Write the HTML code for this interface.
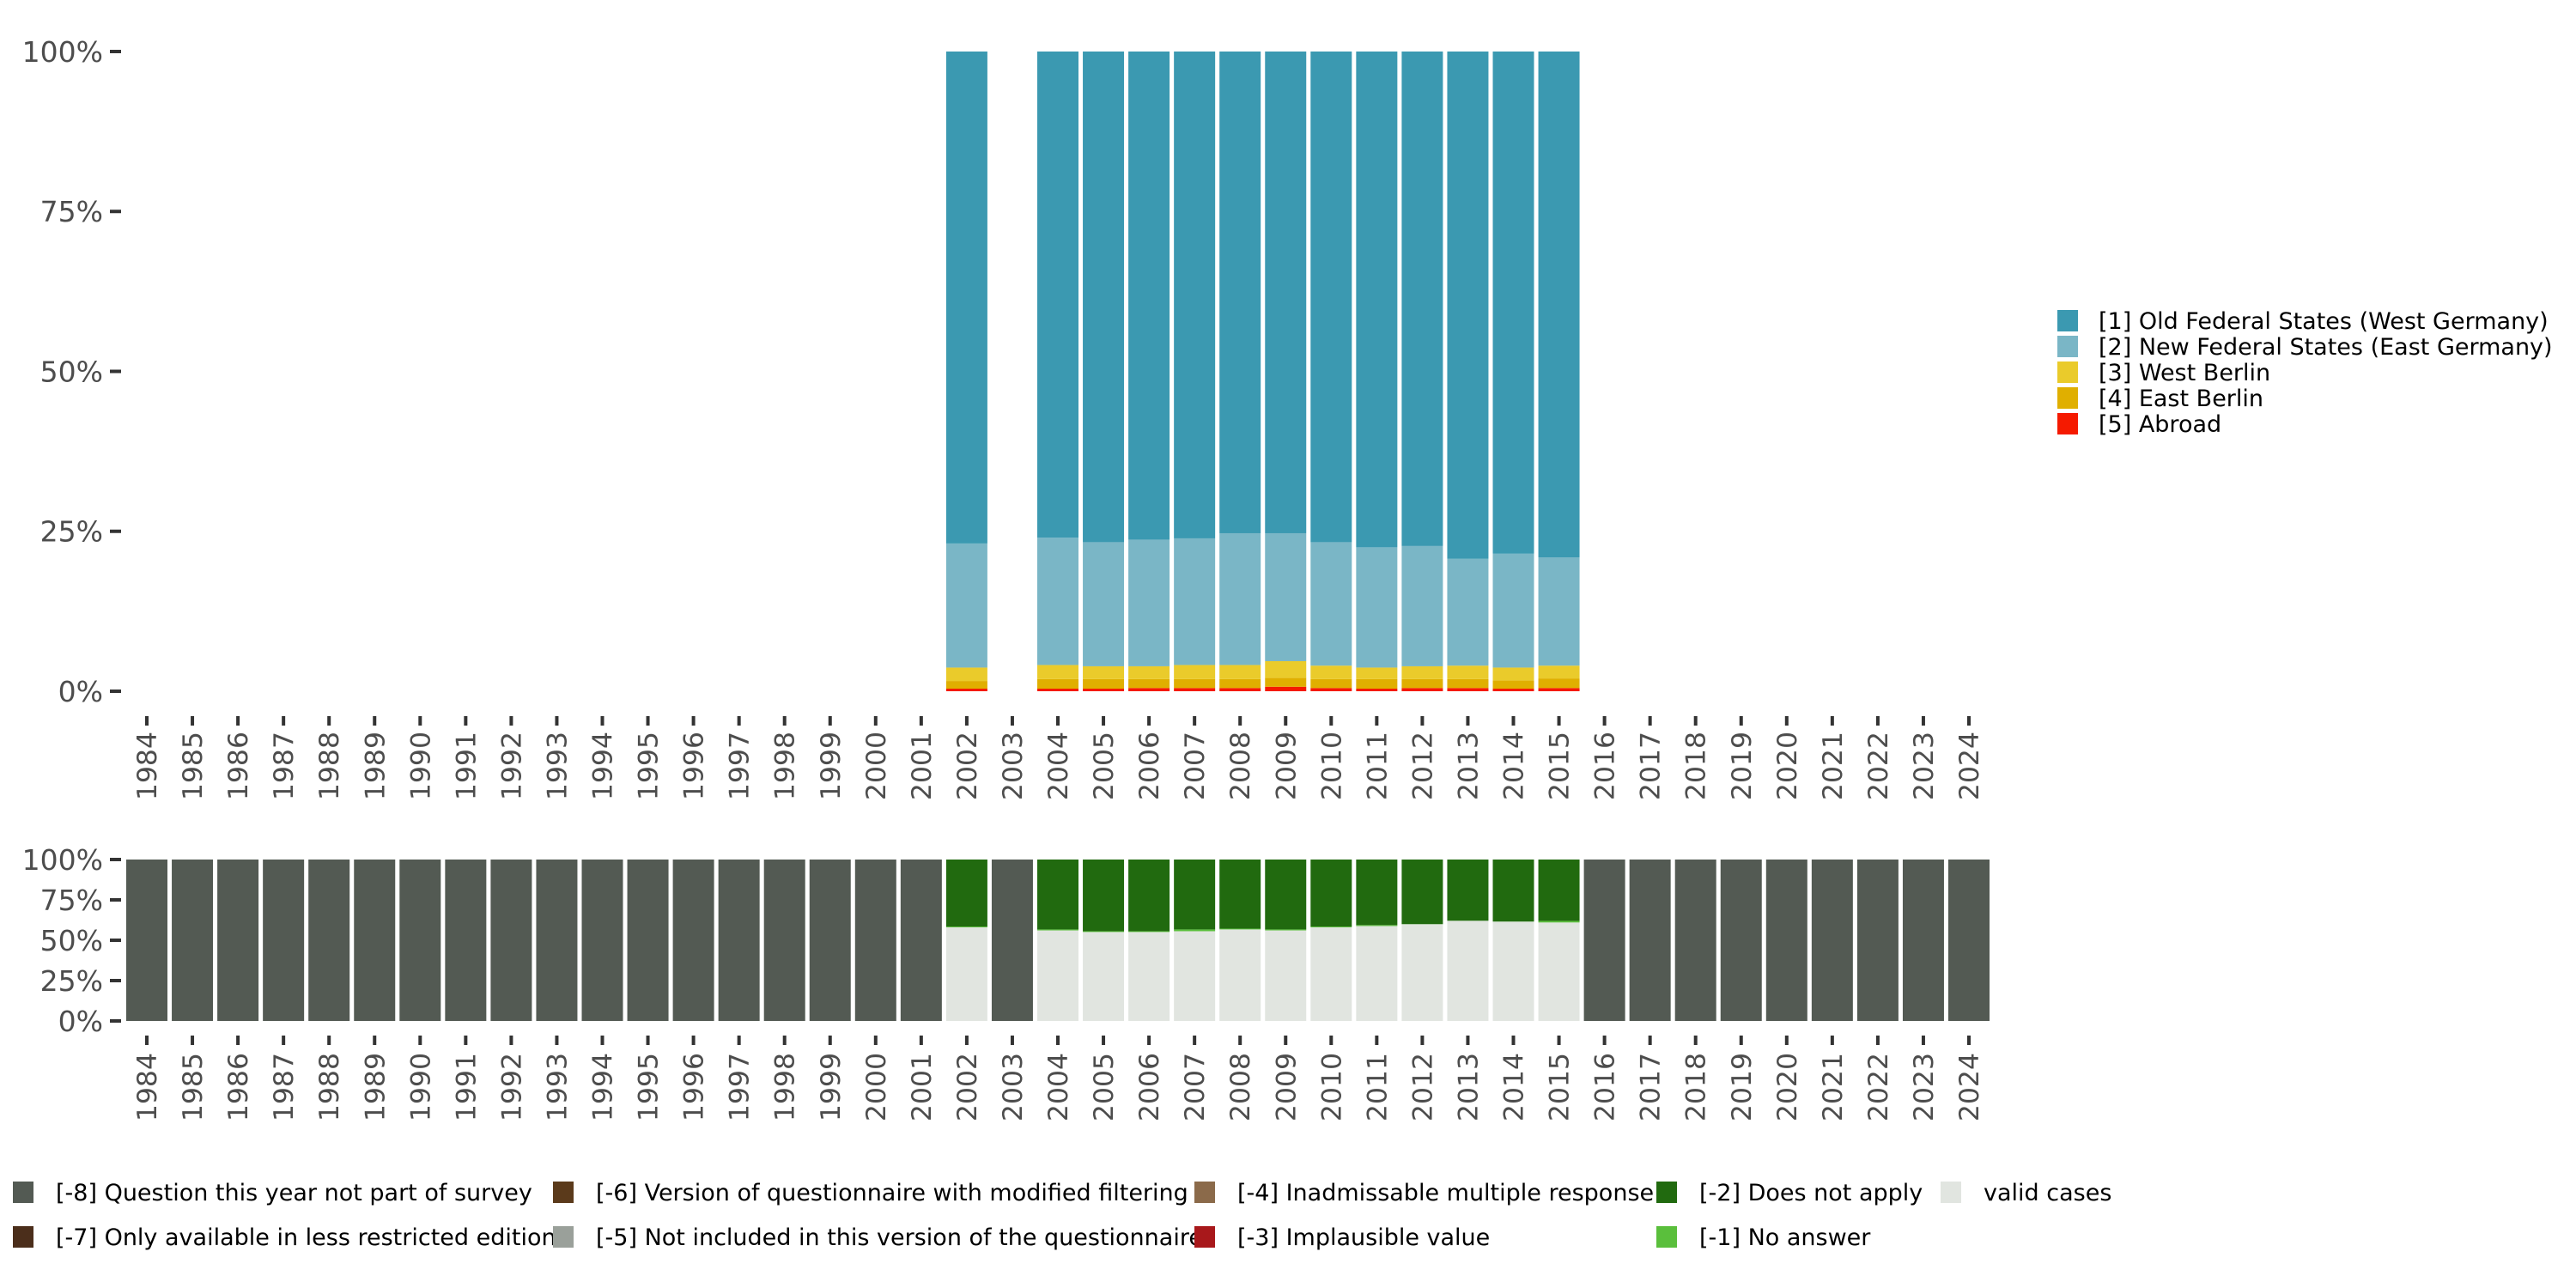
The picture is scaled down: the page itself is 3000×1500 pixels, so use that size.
<!DOCTYPE html>
<html><head><meta charset="utf-8">
<style>
html,body{margin:0;padding:0;background:#fff;}
svg{display:block;font-family:"DejaVu Sans","Liberation Sans",sans-serif;}
</style></head>
<body>
<svg id="chart" width="3000" height="1500" viewBox="0 0 3000 1500" xmlns="http://www.w3.org/2000/svg">
<g id="top"></g>
<g id="bottom"></g>
<g id="legend-right"></g>
<g id="legend-bottom"></g>
</svg>
<script>
const years = [];
for (let y = 1984; y <= 2024; y++) years.push(y);
const dataYears = [2002,2004,2005,2006,2007,2008,2009,2010,2011,2012,2013,2014,2015];
const abroad     = [0.4,0.4,0.4,0.5,0.5,0.5,0.7,0.5,0.4,0.5,0.5,0.4,0.5];
const eastBerlin = [1.2,1.5,1.5,1.4,1.4,1.4,1.4,1.4,1.5,1.4,1.4,1.3,1.5];
const westBerlin = [2.1,2.2,2.0,2.0,2.2,2.2,2.6,2.1,1.8,2.0,2.1,2.0,2.0];
const newStates  = [19.4,19.9,19.4,19.8,19.8,20.6,20.0,19.3,18.8,18.8,16.7,17.8,16.9];
const oldStates  = [76.9,76.0,76.7,76.3,76.1,75.3,75.3,76.7,77.5,77.3,79.3,78.5,79.1];
const validCases   = [58.0,56.1,55.1,55.1,55.6,56.7,56.1,58.0,58.8,59.9,62.0,61.5,61.0];
const noAnswer     = [0.5,0.6,0.5,0.5,1.1,0.5,0.6,0.5,0.6,0.1,0.1,0.1,1.0];
const doesNotApply = [41.5,43.3,44.4,44.4,43.3,42.8,43.3,41.5,40.6,40.0,37.9,38.4,38.0];
const yTicks = [0,25,50,75,100];
const yTickLabels = ["0%","25%","50%","75%","100%"];

const NS = "http://www.w3.org/2000/svg";
function mk(tag, attrs, parent){const e=document.createElementNS(NS,tag);for(const k in attrs)e.setAttribute(k,attrs[k]);parent.appendChild(e);return e;}
const x0 = 171, step = 53.05, bw = 48;
function xC(year){return x0 + (year-1984)*step;}
function yTop(v){return 805 - v/100*745;}
function yBot(v){return 1189 - v/100*188;}

const topG = document.getElementById('top');
const botG = document.getElementById('bottom');
const tickCol = "#333", labCol = "#4d4d4d";

function axes(g, yf, tickYTop, labelY, fs){
  yTicks.forEach((t,i)=>{
    const l = mk('line',{x1:128,x2:141,y1:yf(t),y2:yf(t),stroke:tickCol,'stroke-width':4},g);
    
    
    const tx = mk('text',{x:120,y:yf(t)+fs*0.36,'text-anchor':'end','font-size':fs,fill:labCol},g);
    tx.textContent = yTickLabels[i];
    
    
  });
  years.forEach(yr=>{
    const x = xC(yr);
    const l = mk('line',{x1:x,x2:x,y1:tickYTop,y2:tickYTop+11,stroke:tickCol,'stroke-width':4},g);
    
    
    const tx = mk('text',{x:0,y:0,'text-anchor':'end','font-size':31.5,fill:labCol,transform:`translate(${x+11},${labelY}) rotate(-90)`},g);
    tx.textContent = yr;
    
    
  });
}
axes(topG, yTop, 834, 852, 33);
axes(botG, yBot, 1206, 1226, 33);

const topSeries = [
  {vals:abroad,col:"#f51a00",name:"bar-abroad"},
  {vals:eastBerlin,col:"#e0af00",name:"bar-east-berlin"},
  {vals:westBerlin,col:"#eacb2b",name:"bar-west-berlin"},
  {vals:newStates,col:"#7ab6c6",name:"bar-new-federal-states"},
  {vals:oldStates,col:"#3b99b1",name:"bar-old-federal-states"}
];
dataYears.forEach((yr,i)=>{
  let cum = 0;
  topSeries.forEach(s=>{
    const v = s.vals[i];
    const r = mk('rect',{x:xC(yr)-bw/2,y:yTop(cum+v),width:bw,height:yTop(cum)-yTop(cum+v),fill:s.col},topG);
    
    
    cum += v;
  });
});

years.forEach(yr=>{
  const i = dataYears.indexOf(yr);
  if (i < 0) {
    const r = mk('rect',{x:xC(yr)-bw/2,y:yBot(100),width:bw,height:yBot(0)-yBot(100),fill:"#535a53"},botG);
    
    
    return;
  }
  const segs = [
    {v:validCases[i],col:"#e1e5e0",name:"bar-valid-cases"},
    {v:noAnswer[i],col:"#5abf3c",name:"bar-no-answer"},
    {v:doesNotApply[i],col:"#216a0f",name:"bar-does-not-apply"}
  ];
  let cum = 0;
  segs.forEach(s=>{
    const r = mk('rect',{x:xC(yr)-bw/2,y:yBot(cum+s.v),width:bw,height:yBot(cum)-yBot(cum+s.v),fill:s.col},botG);
    
    
    cum += s.v;
  });
});

const rightLabels = ["[1] Old Federal States (West Germany)","[2] New Federal States (East Germany)","[3] West Berlin","[4] East Berlin","[5] Abroad"];
const rightCols = ["#3b99b1","#7ab6c6","#eacb2b","#e0af00","#f51a00"];
const lr = document.getElementById('legend-right');
rightLabels.forEach((t,i)=>{
  const cy = 373 + i*30;
  const r = mk('rect',{x:2396,y:cy-12,width:24,height:25,fill:rightCols[i]},lr);
  
  
  const tx = mk('text',{x:2444,y:cy+10,'font-size':27,fill:"#000"},lr);
  tx.textContent = t;
  
  
});

const botLabels = [
  ["[-8] Question this year not part of survey","#535a53",15,1388],
  ["[-7] Only available in less restricted edition","#4b2e1b",15,1440],
  ["[-6] Version of questionnaire with modified filtering","#5b3a1b",644,1388],
  ["[-5] Not included in this version of the questionnaire","#9aa09a",644,1440],
  ["[-4] Inadmissable multiple response","#8b6a4a",1391,1388],
  ["[-3] Implausible value","#a8181b",1391,1440],
  ["[-2] Does not apply","#216a0f",1929,1388],
  ["[-1] No answer","#5abf3c",1929,1440],
  ["valid cases","#e1e5e0",2260,1388]
];
const lb = document.getElementById('legend-bottom');
botLabels.forEach(b=>{
  const r = mk('rect',{x:b[2],y:b[3]-12,width:24,height:25,fill:b[1]},lb);
  
  
  const tx = mk('text',{x:b[2]+50,y:b[3]+10,'font-size':27,fill:"#000"},lb);
  tx.textContent = b[0];
  
  
});
</script>
</body></html>
